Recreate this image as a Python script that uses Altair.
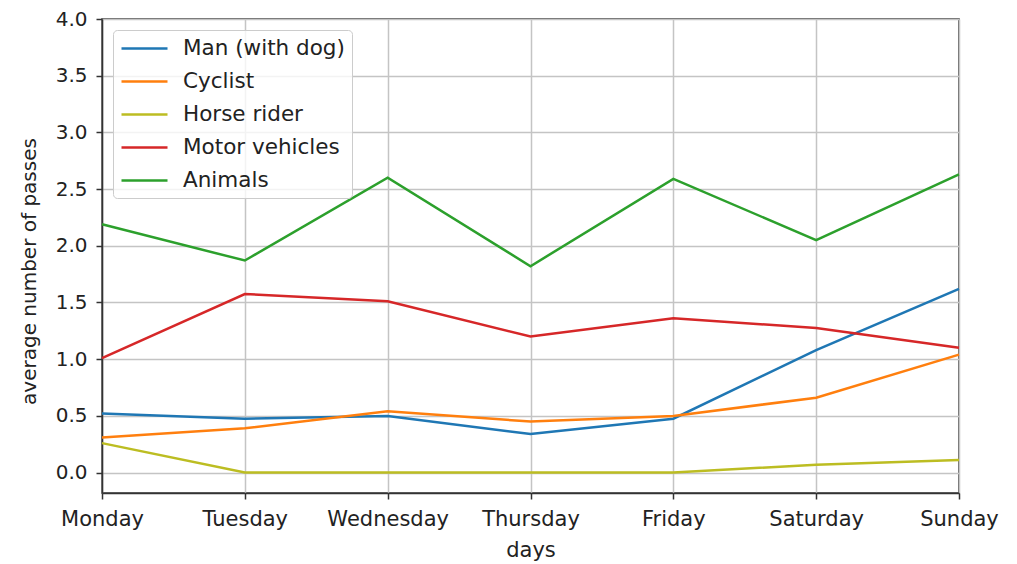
import altair as alt
import pandas as pd

days = ["Monday", "Tuesday", "Wednesday", "Thursday", "Friday", "Saturday", "Sunday"]
series = ["Man (with dog)", "Cyclist", "Horse rider", "Motor vehicles", "Animals"]
man = [0.52, 0.475, 0.50, 0.34, 0.475, 1.08, 1.62]
cyclist = [0.31, 0.39, 0.54, 0.45, 0.50, 0.66, 1.04]
horse = [0.26, 0.0, 0.0, 0.0, 0.0, 0.07, 0.11]
motor = [1.01, 1.575, 1.51, 1.20, 1.36, 1.275, 1.10]
animals = [2.19, 1.87, 2.60, 1.82, 2.59, 2.05, 2.63]
colors = ["#1f77b4", "#ff7f0e", "#bcbd22", "#d62728", "#2ca02c"]
y_ticks = [0.0, 0.5, 1.0, 1.5, 2.0, 2.5, 3.0, 3.5, 4.0]

values = [man, cyclist, horse, motor, animals]
rows = []
for name, vals in zip(series, values):
    for d, v in zip(days, vals):
        rows.append({"day": d, "series": name, "value": v})
df = pd.DataFrame(rows)

FONT = "DejaVu Sans"

chart = alt.Chart(df).mark_line(strokeWidth=2.5).encode(
    x=alt.X("day:N", sort=days, scale=alt.Scale(padding=0),
            axis=alt.Axis(title="days", labelAngle=0, grid=True, labelFlush=False,
                          labelOverlap=False, labelPadding=9, titlePadding=10,
                          labelFontSize=21, titleFontSize=21)),
    y=alt.Y("value:Q", scale=alt.Scale(domain=[-0.18, 4.0], nice=False, zero=False),
            axis=alt.Axis(title="average number of passes", values=y_ticks, format=".1f",
                          grid=True, labelPadding=9, titlePadding=16, titleY=252,
                          labelFontSize=20, titleFontSize=20)),
    color=alt.Color("series:N", sort=series,
                    scale=alt.Scale(domain=series, range=colors),
                    legend=alt.Legend(title=None, orient="none", legendX=11, legendY=11,
                                      symbolType="M-1,0H3.6", symbolSize=400,
                                      symbolStrokeWidth=2.5, labelOffset=40,
                                      rowPadding=11, padding=7,
                                      fillColor="rgba(255,255,255,0.8)",
                                      strokeColor="#cccccc", cornerRadius=4,
                                      labelFont=FONT, labelFontSize=21.5,
                                      labelColor="#222222", labelLimit=400)),
    detail="series:N",
).properties(
    width=857, height=474,
    autosize=alt.AutoSizeParams(type="none"),
    padding={"left": 94, "top": 11, "right": 50, "bottom": 70},
).configure_axis(
    labelFont=FONT, titleFont=FONT,
    titleFontWeight="normal", labelColor="#222222", titleColor="#222222",
    domainColor="#333333", domainWidth=1.5, tickColor="#333333", tickSize=6,
    tickWidth=1.5, gridColor="#c4c4c4", gridWidth=1.5,
).configure_view(
    stroke="#333333", strokeWidth=1.5,
)

chart.save("out.html", embed_options={"renderer": "svg", "actions": False})
